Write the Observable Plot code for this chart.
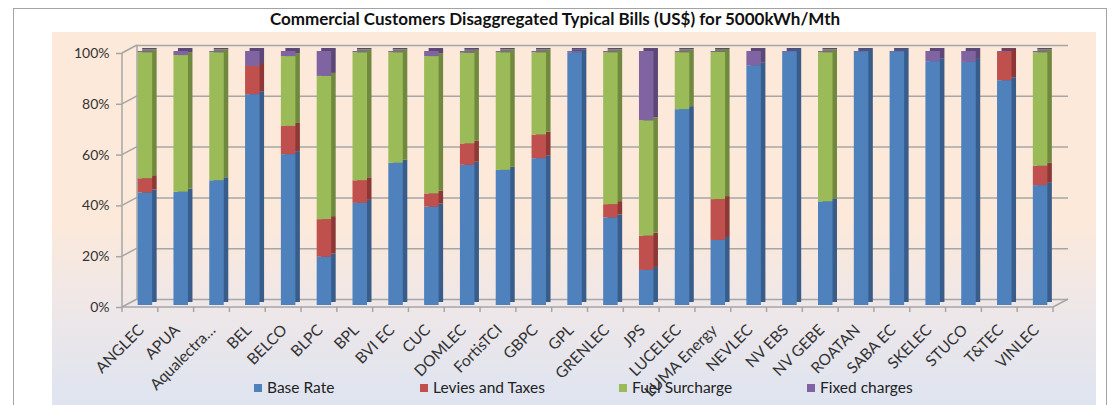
<!DOCTYPE html>
<html><head><meta charset="utf-8">
<script src="https://cdn.jsdelivr.net/npm/d3@7"></script>
<script src="https://cdn.jsdelivr.net/npm/@observablehq/plot@0.6"></script>
<style>
body{margin:0;background:#fff;font-family:Lato,"Open Sans",sans-serif;}
#wrap{position:relative;width:1110px;height:405px;overflow:hidden;}
#border{position:absolute;left:13px;top:8px;width:1094px;height:430px;border:1.5px solid #a3a3a3;box-sizing:border-box;}
#bg{position:absolute;left:52px;top:32px;width:1044px;height:380px;background:linear-gradient(#fde9d9 0%,#fce9da 50%,#efe7e8 72%,#dde4f1 100%);}
#title{position:absolute;left:0;width:1110px;top:8px;text-align:center;font-weight:bold;font-size:17px;color:#111;}
#chart{position:absolute;left:0;top:0;}
.lg{position:absolute;top:378px;font-size:15.5px;color:#222;white-space:nowrap;}
.lg span.sq{display:inline-block;width:8px;height:8px;margin-right:5px;vertical-align:1px;}
</style></head>
<body><div id="wrap"><div id="border"></div><div id="bg"></div>
<div id="title">Commercial Customers Disaggregated Typical Bills (US$) for 5000kWh/Mth</div>
<div id="chart"></div><div id="legend"></div></div>
<script>
const categories = ["ANGLEC","APUA","Aqualectra…","BEL","BELCO","BLPC","BPL","BVI EC","CUC","DOMLEC","FortisTCI","GBPC","GPL","GRENLEC","JPS","LUCELEC","LUMA Energy","NEVLEC","NV EBS","NV GEBE","ROATAN","SABA EC","SKELEC","STUCO","T&TEC","VINLEC"];
const series = ["Base Rate","Levies and Taxes","Fuel Surcharge","Fixed charges"];
const baseRate = [44.3,44.6,49.1,83.0,59.4,19.0,40.2,56.0,38.7,55.2,53.2,57.8,99.3,34.5,13.8,77.1,25.6,94.4,99.6,40.8,99.6,99.6,96.0,95.7,88.5,47.2];
const levies   = [5.6,0,0,11.1,11.1,14.8,8.9,0,5.2,8.4,0,9.3,0,5.2,13.5,0,16.1,0,0,0,0,0,0,0,11.1,7.6];
const fuel     = [49.6,53.8,50.4,0,27.5,56.4,50.4,43.5,54.1,35.7,46.3,32.4,0,59.8,45.4,22.4,57.9,0,0,58.7,0,0,0,0,0,44.7];
const fixed    = [0.5,1.6,0.5,5.9,2.0,9.8,0.5,0.5,2.0,0.7,0.5,0.5,0.7,0.5,27.3,0.5,0.4,5.6,0.4,0.5,0.4,0.4,4.0,4.3,0.4,0.5];
const yTicks = [0,20,40,60,80,100];

const frontColors = ["#4f81bd","#c0504d","#9bbb59","#8064a2"];
const sideColors  = ["#385d8a","#8c3836","#71893f","#5c4776"];

const valuesBySeries = [baseRate, levies, fuel, fixed];
const table = [];
categories.forEach((c, i) => {
  let acc = 0;
  series.forEach((s, k) => {
    const v = valuesBySeries[k][i];
    table.push({cat: c, series: s, y1: acc, y2: acc + v});
    acc += v;
  });
});

const sideMarks = series.map((s, k) => Plot.barY(table.filter(d => d.series === s && d.y2 > d.y1), {x: "cat", y1: "y1", y2: "y2", fill: sideColors[k], dx: 9.5, dy: -5}));
const frontMarks = series.map((s, k) => Plot.barY(table.filter(d => d.series === s && d.y2 > d.y1), {x: "cat", y1: "y1", y2: "y2", fill: frontColors[k], dx: 5, dy: -2}));

const plot = Plot.plot({
  width: 1110, height: 405,
  marginLeft: 122, marginRight: 57, marginTop: 53, marginBottom: 98,
  style: {background: "transparent", fontFamily: "Lato, 'Open Sans', sans-serif", overflow: "visible"},
  x: {domain: categories, paddingInner: 0.595, paddingOuter: 0.2975, round: false},
  y: {domain: [0, 100]},
  marks: [
    Plot.gridY(yTicks, {stroke: "#a6a6a6", strokeOpacity: 1, strokeWidth: 1.5, dx: 15, dy: -8}),
    Plot.axisY(yTicks, {tickSize: 6, tickPadding: 7, tickFormat: d => d + "%", fontSize: 14, stroke: "#a6a6a6", strokeWidth: 1.5, fill: "#333", label: null}),
    Plot.axisX({tickRotate: -45, tickSize: 0, tickPadding: 20, fontSize: 15.5, fill: "#333", dx: 1, label: null}),
    ...sideMarks,
    ...frontMarks
  ]
});
document.getElementById("chart").appendChild(plot);

// 3D frame decorations drawn from the plot's own scales
const svg = d3.select(plot);
const ys = plot.scale("y"), xs = plot.scale("x");
const y = v => ys.apply(v);
const x0 = xs.range[0], x1 = xs.range[1];
const step = (x1 - x0) / categories.length;
const g = svg.insert("g", "g").attr("stroke", "#a6a6a6").attr("stroke-width", 1.5).attr("fill", "none");
g.append("line").attr("x1", x0).attr("x2", x0).attr("y1", y(0)).attr("y2", y(100));
g.append("line").attr("x1", x0 + 15).attr("x2", x0 + 15).attr("y1", y(0) - 8).attr("y2", y(100) - 8);
yTicks.forEach(t => g.append("line").attr("x1", x0).attr("y1", y(t)).attr("x2", x0 + 15).attr("y2", y(t) - 8));
g.append("line").attr("x1", x0).attr("x2", x1).attr("y1", y(0)).attr("y2", y(0));
g.append("line").attr("x1", x1).attr("y1", y(0)).attr("x2", x1 + 15).attr("y2", y(0) - 8);
d3.range(categories.length + 1).forEach(k => g.append("line").attr("x1", x0 + k * step).attr("x2", x0 + k * step).attr("y1", y(0)).attr("y2", y(0) + 5));

// legend
const legendLeft = [254, 420, 619, 807];
const lg = document.getElementById("legend");
series.forEach((s, k) => {
  const d = document.createElement("div");
  d.className = "lg";
  d.style.left = legendLeft[k] + "px";
  d.innerHTML = `<span class="sq" style="background:${frontColors[k]}"></span>${s}`;
  lg.appendChild(d);
});
</script></body></html>
